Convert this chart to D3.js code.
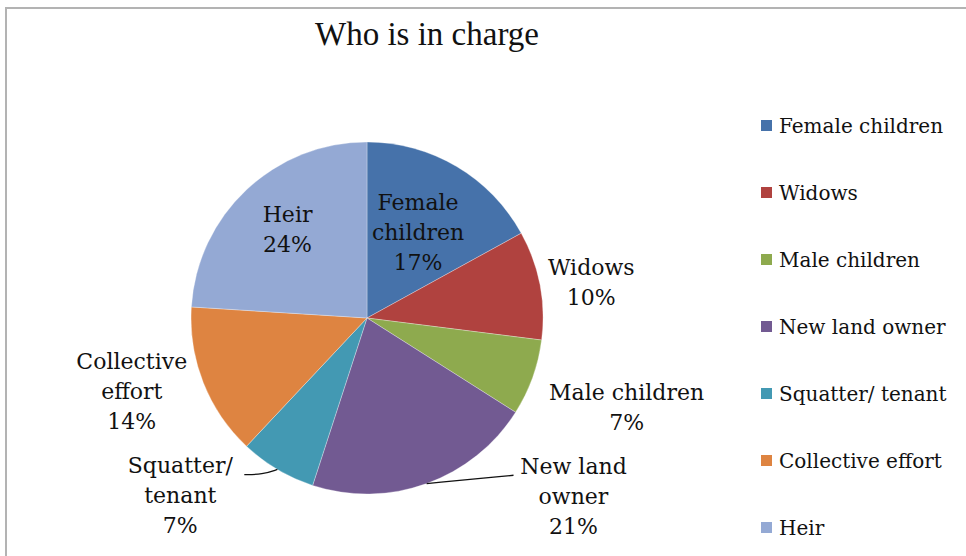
<!DOCTYPE html>
<html>
<head>
<meta charset="utf-8">
<style>
  body { margin: 0; background: #fff; }
  svg { display: block; }
</style>
</head>
<body>
<div id="chart"></div>
<script src="https://d3js.org/d3.v7.min.js"></script>
<script>
// data
var categories = ["Female children", "Widows", "Male children", "New land owner",
                  "Squatter/ tenant", "Collective effort", "Heir"];
var shares = [17, 10, 7, 21, 7, 14, 24];
// how each slice label is broken into lines
var labelLines = [["Female", "children"], ["Widows"], ["Male children"], ["New land", "owner"],
                  ["Squatter/", "tenant"], ["Collective", "effort"], ["Heir"]];
var colors = ["#4672AA", "#B0423F", "#8EAA4E", "#725A92", "#4399B3", "#DE8441", "#94A9D4"];

// label layout: radius factor and angle shift (degrees) from slice mid angle,
// leader = end of the connector line relative to the label centre, knee = bend before it
var labelLayout = [
  { r: 0.57, da: 0 },
  { r: 1.29, da: 1.8 },
  { r: 1.56, da: -0.8 },
  { r: 1.55, da: -29.4, leader: [-60, -21], knee: [-60, -21] },
  { r: 1.46, da: 16, leader: [64, -20], knee: [82, -20] },
  { r: 1.40, da: 4.3 },
  { r: 0.68, da: 1.6 }
];

var W = 966, H = 556;
var cx = 367, cy = 318, R = 176;
var lineH = 30;

var svg = d3.select("#chart").append("svg")
  .attr("width", W).attr("height", H);

// chart frame
svg.append("rect")
  .attr("x", 6).attr("y", 8)
  .attr("width", W + 10).attr("height", H + 10)
  .attr("fill", "#fff")
  .attr("stroke", "#b3b3b3")
  .attr("stroke-width", 2);

svg.append("text")
  .attr("x", 427).attr("y", 45)
  .attr("text-anchor", "middle")
  .style("font-family", "'Liberation Serif', serif")
  .style("font-size", "33px")
  .attr("fill", "#111")
  .text("Who is in charge");

var data = categories.map(function (c, i) { return { name: c, value: shares[i], i: i }; });

var pie = d3.pie().value(function (d) { return d.value; }).sort(null);
var arc = d3.arc().innerRadius(0).outerRadius(R);
var arcs = pie(data);

var g = svg.append("g").attr("transform", "translate(" + cx + "," + cy + ")");

g.selectAll("path.slice")
  .data(arcs)
  .enter()
  .append("path")
    .attr("class", "slice")
    .attr("d", arc)
    .attr("fill", function (d) { return colors[d.data.i]; })
    .attr("stroke", "#ffffff")
    .attr("stroke-opacity", 0.5)
    .attr("stroke-width", 0.6);

function polar(a, r) {
  return [Math.sin(a) * r, -Math.cos(a) * r];
}

// labels
arcs.forEach(function (d) {
  var i = d.data.i, lay = labelLayout[i];
  var mid = (d.startAngle + d.endAngle) / 2;
  var p = polar(mid + lay.da * Math.PI / 180, lay.r * R);
  var lines = labelLines[i].concat([d.data.value + "%"]);
  var top = p[1] - (lines.length - 1) * lineH / 2;

  var t = g.append("text")
    .attr("text-anchor", "middle")
    .style("font-family", "'DejaVu Serif', serif")
    .style("font-size", "22px")
    .attr("fill", "#111");
  lines.forEach(function (s, k) {
    t.append("tspan")
      .attr("x", p[0])
      .attr("y", top + k * lineH + 8)
      .text(s);
  });

  if (lay.leader) {
    var s0 = polar(mid, R);
    var knee = [p[0] + lay.knee[0], p[1] + lay.knee[1]];
    var e = [p[0] + lay.leader[0], p[1] + lay.leader[1]];
    g.append("path")
      .attr("d", d3.line().curve(d3.curveBasis)([s0, knee, e]))
      .attr("fill", "none")
      .attr("stroke", "#111")
      .attr("stroke-width", 1.3);
  }
});

// legend
var legend = svg.append("g").attr("transform", "translate(761,120)");
categories.forEach(function (c, i) {
  var row = legend.append("g").attr("transform", "translate(0," + i * 67 + ")");
  row.append("rect")
    .attr("width", 11).attr("height", 11)
    .attr("fill", colors[i]);
  row.append("text")
    .attr("x", 18).attr("y", 13)
    .style("font-family", "'DejaVu Serif', serif")
    .style("font-size", "20px")
    .attr("fill", "#111")
    .text(c);
});
</script>
</body>
</html>
